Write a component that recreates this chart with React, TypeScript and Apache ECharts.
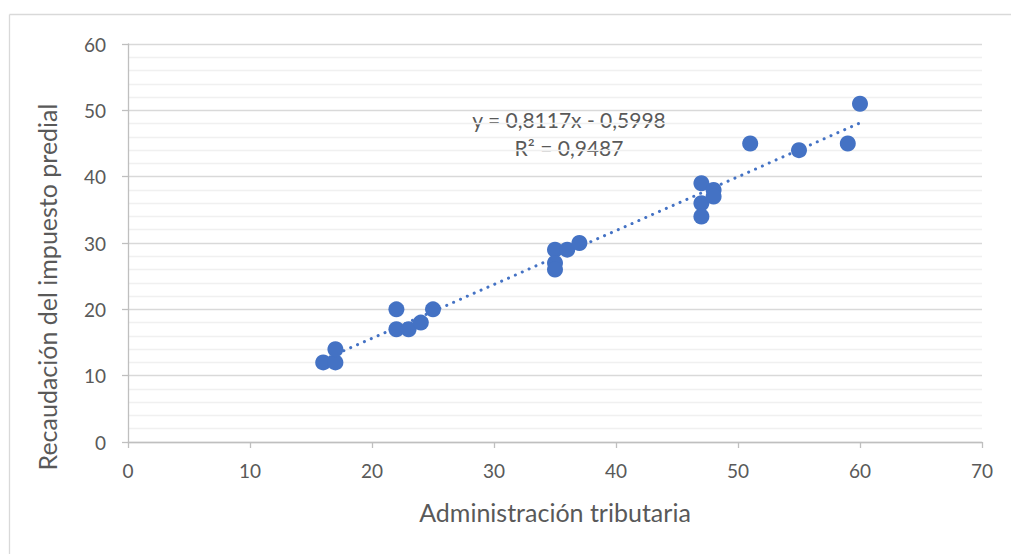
import React, { useEffect, useRef } from "react";
import * as echarts from "echarts";

const xValues = [16, 17, 17, 22, 22, 23, 24, 25, 35, 35, 35, 36, 37, 47, 47, 47, 48, 48, 51, 55, 59, 60];
const yValues = [12, 12, 14, 20, 17, 17, 18, 20, 29, 27, 26, 29, 30, 39, 36, 34, 38, 37, 45, 44, 45, 51];
const slope = 0.8117;
const intercept = -0.5998;
const trendRange = [16, 60];
const equationLines = ["y = 0,8117x - 0,5998", "R² = 0,9487"];
const xTitle = "Administración tributaria";
const yTitle = "Recaudación del impuesto predial";

const FONT = "Lato, 'Open Sans', sans-serif";
const TXT = "#595959";

export default function App() {
  const ref = useRef<HTMLDivElement>(null);
  useEffect(() => {
    if (!ref.current) return;
    const chart = echarts.init(ref.current, null, { renderer: "svg" });
    const points = xValues.map((x, i) => [x, yValues[i]]);
    const trend = trendRange.map((x) => [x, slope * x + intercept]);
    chart.setOption({
      animation: false,
      backgroundColor: "#ffffff",
      grid: { left: 128, top: 44, right: 29, bottom: 112 },
      xAxis: {
        type: "value",
        min: 0,
        max: 70,
        interval: 10,
        name: xTitle,
        nameLocation: "middle",
        nameGap: 57,
        nameTextStyle: { color: TXT, fontSize: 25, fontFamily: FONT },
        axisLine: { show: true, lineStyle: { color: "#bfbfbf", width: 1.3 } },
        axisTick: { show: true, length: 6, lineStyle: { color: "#bfbfbf", width: 1.3 } },
        axisLabel: { color: TXT, fontSize: 19, fontFamily: FONT, margin: 19 },
        splitLine: { show: false },
      },
      yAxis: {
        type: "value",
        min: 0,
        max: 60,
        interval: 10,
        axisLine: { show: true, lineStyle: { color: "#bfbfbf", width: 1.3 } },
        axisTick: { show: true, length: 6, lineStyle: { color: "#bfbfbf", width: 1.3 } },
        axisLabel: { color: TXT, fontSize: 19, fontFamily: FONT, margin: 22 },
        splitLine: { show: true, lineStyle: { color: "#d9d9d9", width: 1.3 } },
        minorTick: { show: false, splitNumber: 5 },
        minorSplitLine: { show: true, lineStyle: { color: "#f0f0f0", width: 1.3 } },
      },
      series: [
        {
          type: "line",
          data: trend,
          symbol: "none",
          lineStyle: { color: "#4472C4", width: 3, type: [0.1, 7.4], cap: "round" },
          z: 2,
        },
        {
          type: "scatter",
          data: points,
          symbolSize: 16,
          itemStyle: { color: "#4472C4", opacity: 1 },
          z: 3,
        },
      ],
      graphic: [
        { type: "line", shape: { x1: 9.5, y1: 14.5, x2: 1011, y2: 14.5 }, style: { stroke: "#d9d9d9", lineWidth: 1.3 } },
        { type: "line", shape: { x1: 9.5, y1: 14.5, x2: 9.5, y2: 554 }, style: { stroke: "#d9d9d9", lineWidth: 1.3 } },
        {
          type: "text",
          x: 569,
          y: 119,
          style: { text: equationLines[0], fill: TXT, font: `21px ${FONT}`, textAlign: "center", textVerticalAlign: "middle" },
        },
        {
          type: "text",
          x: 569,
          y: 147,
          style: { text: equationLines[1], fill: TXT, font: `21px ${FONT}`, textAlign: "center", textVerticalAlign: "middle" },
        },
        {
          type: "text",
          x: 47,
          y: 287,
          rotation: Math.PI / 2,
          style: { text: yTitle, fill: TXT, font: `25px ${FONT}`, textAlign: "center", textVerticalAlign: "middle" },
        },
      ],
    });
    return () => chart.dispose();
  }, []);
  return <div ref={ref} style={{ position: "fixed", left: 0, top: 0, width: 1011, height: 554 }} />;
}
